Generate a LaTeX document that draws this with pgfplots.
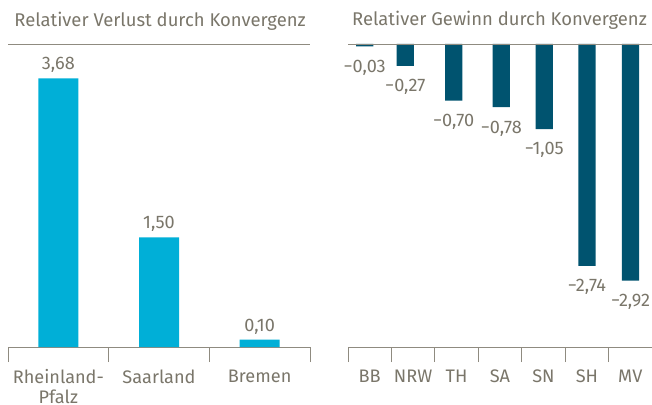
\documentclass[border=0pt]{standalone}
\usepackage{fontspec}
\setmainfont{Fira Sans}
\usepackage{pgfplots}
\usepackage{pgfplotstable}
\pgfplotsset{compat=1.18}
\definecolor{txt}{HTML}{7A766A}
\definecolor{lin}{HTML}{8F8B80}
\definecolor{cyanbar}{HTML}{00AFD7}
\definecolor{darkbar}{HTML}{00536F}

\pgfplotstableread{
x y label
0 3.68 3,68
1 1.50 1,50
2 0.10 0,10
}\lefttab
\pgfplotstableread{
x y label
-0.116 -0.03 −0,03
0.819 -0.27 −0,27
1.934 -0.70 −0,70
3.030 -0.78 −0,78
4.020 -1.05 −1,05
5.003 -2.74 −2,74
6.005 -2.92 −2,92
}\righttab

\pgfplotsset{mystyle/.style={
  scale only axis, height=303bp,
  axis x line=bottom, axis y line=none,
  axis line style={lin, line width=0.8pt, -},
  ybar, clip=false,
  major tick length=0pt, minor tick length=15bp,
  tick align=outside,
  minor tick style={lin, line width=0.8pt},
  major tick style={draw=none},
  ticklabel style={text=txt, font=\fontsize{18.2}{20}\selectfont},
  xticklabel style={align=center, yshift=-19bp},
  nodes near coords, point meta=explicit symbolic,
  every node near coord/.append style={text=txt, font=\fontsize{18.2}{20}\selectfont},
}}

\begin{document}
\begin{tikzpicture}
\useasboundingbox (0,0) rectangle (652bp,405bp);
\begin{axis}[mystyle, at={(8bp,58bp)}, anchor=south west, width=302bp,
  xmin=-0.5, xmax=2.5, ymin=0, ymax=4.1507,
  xtick={0,1,2}, xticklabels={Rheinland-\\Pfalz, Saarland, Bremen},
  minor xtick={-0.5,0.5,1.5,2.5},
  every node near coord/.append style={anchor=south, yshift=2bp}]
\addplot[fill=cyanbar, draw=none, bar width=40bp] table[x=x, y=y, meta=label] {\lefttab};
\draw[lin, line width=0.8pt] (rel axis cs:0,1) -- (rel axis cs:1,1);
\end{axis}
\begin{axis}[mystyle, at={(348bp,58bp)}, anchor=south west, width=304bp,
  xmin=-0.5, xmax=6.5, ymin=-3.7407, ymax=0,
  xtick={0,1,2,3,4,5,6}, xticklabels={BB, NRW, TH, SA, SN, SH, MV},
  minor xtick={-0.5,0.5,1.5,2.5,3.5,4.5,5.5,6.5},
  every node near coord/.append style={anchor=north, yshift=-10bp}]
\addplot[fill=darkbar, draw=none, bar width=17.3bp] table[x=x, y=y, meta=label] {\righttab};
\draw[lin, line width=0.8pt] (rel axis cs:0,1) -- (rel axis cs:1,1);
\end{axis}
\node[anchor=base, text=txt, font=\fontsize{18.5}{22}\selectfont] at (160bp,378bp) {Relativer Verlust durch Konvergenz};
\node[anchor=base, text=txt, font=\fontsize{18.5}{22}\selectfont] at (499.5bp,379bp) {Relativer Gewinn durch Konvergenz};
\end{tikzpicture}
\end{document}
